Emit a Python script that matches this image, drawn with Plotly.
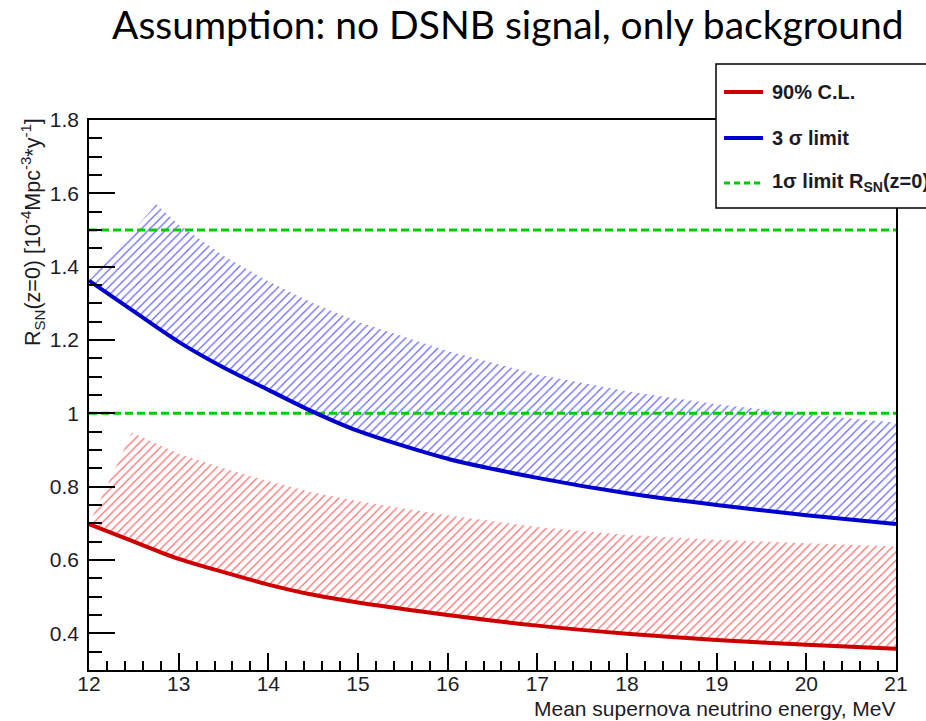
import plotly.graph_objects as go

# ---------------- data ----------------
energy = [12.0, 12.5, 13.0, 13.5, 14.0, 14.5, 15.0, 16.0, 17.0, 18.0, 19.0, 20.0, 21.0]
limit_3sigma = [1.362, 1.278, 1.195, 1.125, 1.064, 1.004, 0.952, 0.876, 0.824, 0.782, 0.750, 0.722, 0.698]
limit_90cl = [0.698, 0.650, 0.603, 0.567, 0.533, 0.505, 0.484, 0.450, 0.421, 0.399, 0.382, 0.369, 0.358]

band_3sigma_E = [12.75, 13.0, 13.5, 14.0, 14.5, 15.0, 16.0, 17.0, 18.0, 19.0, 20.0, 21.0]
band_3sigma_upper = [1.570, 1.515, 1.430, 1.360, 1.300, 1.250, 1.170, 1.106, 1.060, 1.025, 0.997, 0.975]

band_90cl_E = [12.48, 13.0, 13.5, 14.0, 14.5, 15.0, 16.0, 17.0, 18.0, 19.0, 20.0, 21.0]
band_90cl_upper = [0.948, 0.890, 0.850, 0.815, 0.784, 0.760, 0.722, 0.690, 0.668, 0.655, 0.645, 0.637]

sigma1_levels = [1.5, 1.0]

x_ticks = [12, 13, 14, 15, 16, 17, 18, 19, 20, 21]
y_ticks = [0.4, 0.6, 0.8, 1.0, 1.2, 1.4, 1.6, 1.8]
y_tick_labels = ["0.4", "0.6", "0.8", "1", "1.2", "1.4", "1.6", "1.8"]

x_range = [12, 21]
y_range = [0.30, 1.80]

# ---------------- styling ----------------
RED = "#cc0000"
BLUE = "#0000cc"
GREEN = "#00cc00"
TXT = "#1c1c28"
FONT = "Liberation Sans, Arial, sans-serif"

L, R, T, B = 89, 896, 120, 670
W, H = R - L, B - T


def px(x):
    return (x - L) / W


def py(y):
    return (B - y) / H


fig = go.Figure()

# hatched bands (polygon: lower curve forward, upper edge backward)
blue_poly_x = energy + band_3sigma_E[::-1]
blue_poly_y = limit_3sigma + band_3sigma_upper[::-1]
fig.add_trace(go.Scatter(
    x=blue_poly_x, y=blue_poly_y, mode="lines", fill="toself",
    line=dict(width=0, color="rgba(0,0,0,0)"),
    fillcolor="rgba(0,0,0,0)",
    fillpattern=dict(shape="/", fgcolor="rgba(60,60,255,0.8)", bgcolor="rgba(0,0,0,0)",
                     size=6, solidity=0.2, fillmode="replace"),
    hoverinfo="skip", showlegend=False))

red_poly_x = energy + band_90cl_E[::-1]
red_poly_y = limit_90cl + band_90cl_upper[::-1]
fig.add_trace(go.Scatter(
    x=red_poly_x, y=red_poly_y, mode="lines", fill="toself",
    line=dict(width=0, color="rgba(0,0,0,0)"),
    fillcolor="rgba(0,0,0,0)",
    fillpattern=dict(shape="/", fgcolor="rgba(255,70,70,0.8)", bgcolor="rgba(0,0,0,0)",
                     size=6, solidity=0.2, fillmode="replace"),
    hoverinfo="skip", showlegend=False))

# 1 sigma dashed levels
for lvl in sigma1_levels:
    fig.add_trace(go.Scatter(
        x=x_range, y=[lvl, lvl], mode="lines",
        line=dict(color=GREEN, width=3, dash="8px,4px"),
        hoverinfo="skip", showlegend=False))

# limit curves
fig.add_trace(go.Scatter(x=energy, y=limit_3sigma, mode="lines",
                         line=dict(color=BLUE, width=4, shape="spline", smoothing=0.8),
                         showlegend=False))
fig.add_trace(go.Scatter(x=energy, y=limit_90cl, mode="lines",
                         line=dict(color=RED, width=4, shape="spline", smoothing=0.8),
                         showlegend=False))

axis_common = dict(showline=True, linecolor="black", linewidth=1.5, mirror=True,
                   showgrid=False, zeroline=False, ticks="inside", tickcolor="black",
                   tickfont=dict(family=FONT, size=21, color=TXT))

fig.update_xaxes(range=x_range, tickvals=x_ticks, ticklen=17, tickwidth=1.5,
                 minor=dict(dtick=0.2, ticklen=9, ticks="inside", tickcolor="black", tickwidth=1.5),
                 ticklabelstandoff=-6, **axis_common)
fig.update_yaxes(range=y_range, tickvals=y_ticks, ticktext=y_tick_labels, ticklen=26, tickwidth=1.5,
                 minor=dict(tick0=0.3, dtick=0.05, ticklen=13, ticks="inside", tickcolor="black", tickwidth=1.5),
                 ticklabelstandoff=4, **axis_common)

annotations = [
    dict(text="Assumption: no DSNB signal, only background", x=px(508), y=py(24),
         xref="paper", yref="paper", xanchor="center", yanchor="middle", showarrow=False,
         font=dict(family="Lato, Open Sans, sans-serif", size=39, color="black")),
    dict(text="Mean supernova neutrino energy, MeV", x=px(898), y=py(708),
         xref="paper", yref="paper", xanchor="right", yanchor="middle", showarrow=False,
         font=dict(family=FONT, size=21, color=TXT)),
    dict(text="R<sub>SN</sub>(z=0) [10<sup>-4</sup>Mpc<sup>-3</sup>*y<sup>-1</sup>]",
         x=px(33), y=py(116), textangle=-90,
         xref="paper", yref="paper", xanchor="center", yanchor="top", showarrow=False,
         font=dict(family=FONT, size=21.5, color=TXT)),
]

legend_rows = [("90% C.L.", RED, 4, "solid", 92),
               ("3 σ limit", BLUE, 4, "solid", 138),
               ("1σ limit R<sub>SN</sub>(z=0)", GREEN, 3, "6px,4px", 183)]

shapes = [dict(type="rect", xref="paper", yref="paper",
               x0=px(716), x1=px(960), y0=py(208), y1=py(64),
               line=dict(color="black", width=1.5), fillcolor="white", layer="above")]
for label, col, wid, dash, yy in legend_rows:
    shapes.append(dict(type="line", xref="paper", yref="paper",
                       x0=px(724), x1=px(763), y0=py(yy), y1=py(yy),
                       line=dict(color=col, width=wid, dash=dash), layer="above"))
    annotations.append(dict(text="<b>" + label + "</b>", x=px(770), y=py(yy),
                            xref="paper", yref="paper", xanchor="left", yanchor="middle",
                            showarrow=False, font=dict(family=FONT, size=20, color=TXT)))

fig.update_layout(
    width=926, height=721,
    margin=dict(l=L, r=926 - R, t=T, b=721 - B),
    paper_bgcolor="white", plot_bgcolor="white",
    showlegend=False,
    annotations=annotations, shapes=shapes,
)

fig.write_html("out.html")
